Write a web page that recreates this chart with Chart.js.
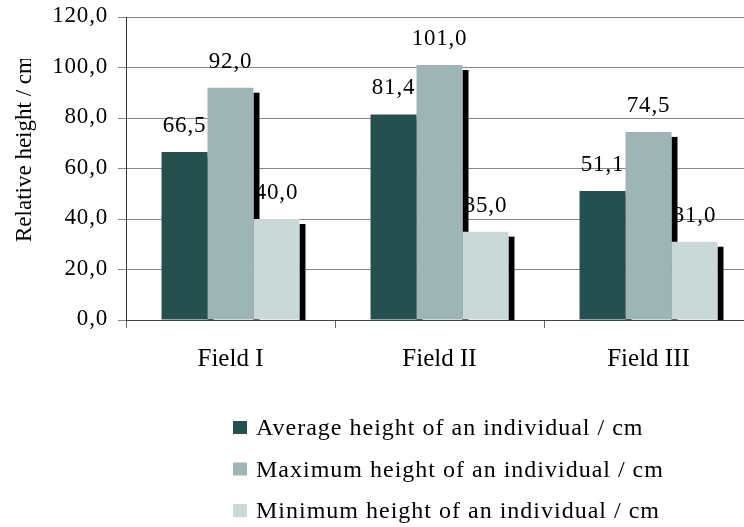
<!DOCTYPE html>
<html>
<head>
<meta charset="utf-8">
<script src="https://cdn.jsdelivr.net/npm/chart.js@4/dist/chart.umd.min.js"></script>
<style>
  html, body { margin: 0; padding: 0; background: #fff; overflow: hidden; }
  #wrap { width: 744px; height: 527px; overflow: hidden; }
  canvas { display: block; }
</style>
</head>
<body>
<div id="wrap"><canvas id="chart" width="760" height="527"></canvas></div>
<script>
const fields = ['Field I', 'Field II', 'Field III'];
const averageHeight = [66.5, 81.4, 51.1];
const maximumHeight = [92.0, 101.0, 74.5];
const minimumHeight = [40.0, 35.0, 31.0];
const seriesNames = [
  'Average height of an individual / cm',
  'Maximum height of an individual / cm',
  'Minimum height of an individual / cm'
];
const seriesColors = ['#245150', '#9eb5b5', '#cad9d8'];
const yTicks = [0, 20, 40, 60, 80, 100, 120];
const axisTitle = 'Relative height / cm';

const serif = '"Liberation Serif", "Times New Roman", serif';
const fmt = v => v.toFixed(1).replace('.', ',');

// value labels first, then a black block on the right of every bar;
// the bars are painted afterwards and hide whatever the neighbour covers
const underBars = {
  id: 'underBars',
  beforeDatasetsDraw(chart) {
    const ctx = chart.ctx;
    const base = chart.scales.y.getPixelForValue(0);
    ctx.save();
    ctx.font = `23px ${serif}`;
    ctx.letterSpacing = '0.8px';
    ctx.fillStyle = '#000';
    ctx.textAlign = 'center';
    ctx.textBaseline = 'alphabetic';
    chart.data.datasets.forEach((ds, i) => {
      chart.getDatasetMeta(i).data.forEach((bar, j) => {
        ctx.fillText(fmt(ds.data[j]), bar.x, bar.y - 20);
      });
    });
    chart.data.datasets.forEach((ds, i) => {
      chart.getDatasetMeta(i).data.forEach(bar => {
        const right = bar.x + bar.width / 2;
        ctx.fillRect(right, bar.y + 5, 6, base - bar.y - 5);
      });
    });
    ctx.restore();
  }
};

// y tick labels, axis title and the stacked legend underneath
const decorations = {
  id: 'decorations',
  afterDraw(chart) {
    const ctx = chart.ctx;
    const y = chart.scales.y;
    ctx.save();
    ctx.fillStyle = '#000';

    ctx.font = `23px ${serif}`;
    ctx.letterSpacing = '0.8px';
    ctx.textAlign = 'right';
    ctx.textBaseline = 'middle';
    yTicks.forEach(v => {
      ctx.fillText(fmt(v), 108, y.getPixelForValue(v) - 1);
    });

    ctx.letterSpacing = '0px';
    ctx.save();
    ctx.beginPath();
    ctx.rect(0, 59, 60, 300);
    ctx.clip();
    ctx.translate(31, 242);
    ctx.rotate(-Math.PI / 2);
    ctx.font = `23px ${serif}`;
    ctx.textAlign = 'left';
    ctx.textBaseline = 'alphabetic';
    ctx.fillText(axisTitle, 0, 0);
    ctx.restore();

    ctx.font = `24px ${serif}`;
    ctx.letterSpacing = '1px';
    ctx.textAlign = 'left';
    ctx.textBaseline = 'alphabetic';
    seriesNames.forEach((name, i) => {
      const base = 435 + i * 41.5;
      ctx.fillStyle = seriesColors[i];
      ctx.fillRect(233, base - 14, 14, 13);
      ctx.fillStyle = '#000';
      ctx.fillText(name, 256, base);
    });
    ctx.restore();
  }
};

const values = [averageHeight, maximumHeight, minimumHeight];

new Chart(document.getElementById('chart'), {
  type: 'bar',
  data: {
    labels: fields,
    datasets: values.map((data, i) => ({
      label: seriesNames[i],
      data: data,
      backgroundColor: seriesColors[i],
      borderWidth: 0,
      categoryPercentage: 0.66,
      barPercentage: 1.0
    }))
  },
  options: {
    responsive: false,
    animation: false,
    layout: { padding: { top: 17, right: 7, left: 0, bottom: 0 } },
    plugins: {
      legend: { display: false },
      tooltip: { enabled: false }
    },
    scales: {
      x: {
        grid: { offset: true, drawOnChartArea: false, tickLength: 8, color: '#666' },
        border: { color: '#444' },
        ticks: { font: { family: serif, size: 25 }, color: '#000', padding: 16, maxRotation: 0 },
        afterFit: s => { s.height = 207; }
      },
      y: {
        min: 0,
        max: 120,
        ticks: { stepSize: 20, display: false },
        grid: { color: '#878787', tickLength: 8 },
        border: { color: '#333' },
        afterFit: s => { s.width = 126; }
      }
    }
  },
  plugins: [underBars, decorations]
});
</script>
</body>
</html>
